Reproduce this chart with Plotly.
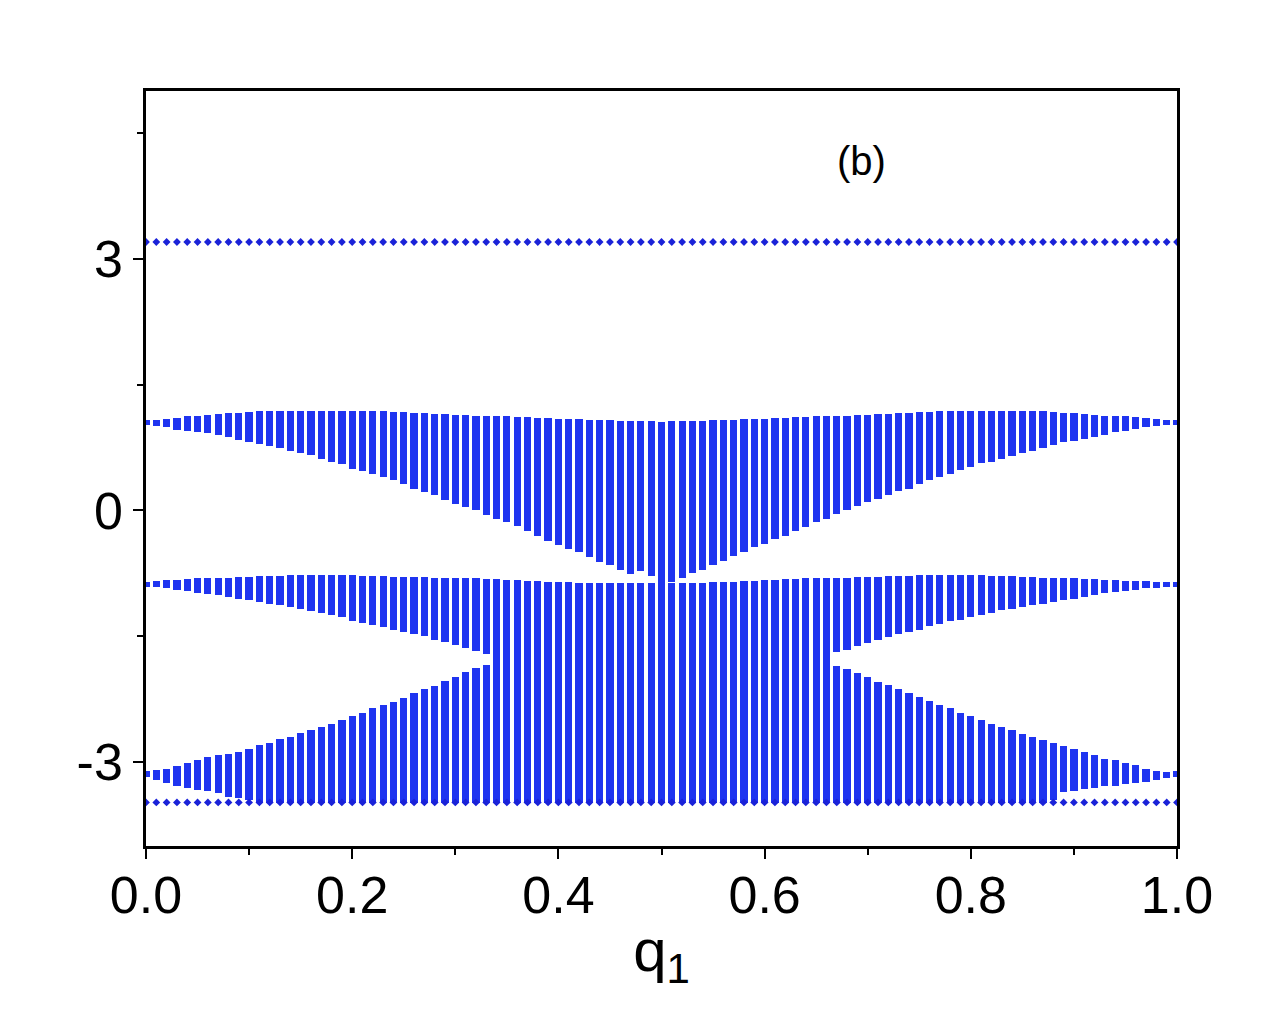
import numpy as np
import plotly.graph_objects as go

# ---------------- data ----------------
q1 = np.round(np.linspace(0.0, 1.0, 101), 2)

flat_top = [3.20] * 101
flat_bottom = [-3.48] * 101

band_a_hi = [
    1.08, 1.08, 1.09, 1.10, 1.12, 1.13, 1.14, 1.15, 1.16, 1.16,
    1.17, 1.18, 1.18, 1.19, 1.19, 1.19, 1.19, 1.19, 1.19, 1.19,
    1.19, 1.18, 1.18, 1.18, 1.17, 1.17, 1.16, 1.16, 1.15, 1.15,
    1.14, 1.14, 1.13, 1.13, 1.12, 1.12, 1.11, 1.11, 1.10, 1.10,
    1.09, 1.09, 1.09, 1.08, 1.08, 1.08, 1.07, 1.07, 1.07, 1.07,
    1.06,
    1.07, 1.07, 1.07, 1.07, 1.08, 1.08, 1.08, 1.09, 1.09, 1.09,
    1.10, 1.10, 1.11, 1.11, 1.12, 1.12, 1.13, 1.13, 1.14, 1.14,
    1.15, 1.15, 1.16, 1.16, 1.17, 1.17, 1.18, 1.18, 1.19, 1.19,
    1.19, 1.19, 1.19, 1.19, 1.19, 1.18, 1.18, 1.17, 1.16, 1.16,
    1.15, 1.14, 1.13, 1.12, 1.12, 1.11, 1.10, 1.09, 1.08, 1.08,
]
band_a_lo = [
    1.02, 1.01, 0.99, 0.96, 0.95, 0.93, 0.92, 0.90, 0.87, 0.84,
    0.81, 0.79, 0.77, 0.74, 0.71, 0.68, 0.66, 0.61, 0.58, 0.55,
    0.50, 0.47, 0.43, 0.40, 0.36, 0.32, 0.26, 0.22, 0.18, 0.13,
    0.08, 0.04, 0.00, -0.06, -0.10, -0.14, -0.19, -0.24, -0.30, -0.36,
    -0.41, -0.46, -0.50, -0.56, -0.62, -0.65, -0.71, -0.76, -0.72, -0.78,
    -0.86,
    -0.85, -0.80, -0.75, -0.71, -0.65, -0.60, -0.54, -0.49, -0.44, -0.40,
    -0.34, -0.30, -0.25, -0.20, -0.14, -0.10, -0.04, 0.00, 0.05, 0.10,
    0.14, 0.18, 0.23, 0.26, 0.32, 0.36, 0.40, 0.44, 0.48, 0.52,
    0.56, 0.58, 0.61, 0.65, 0.68, 0.71, 0.74, 0.78, 0.81, 0.83,
    0.85, 0.88, 0.90, 0.93, 0.95, 0.97, 0.99, 1.01, 1.02, 1.02,
]
band_b_hi = [
    -0.85, -0.84, -0.83, -0.83, -0.82, -0.81, -0.81, -0.80, -0.80, -0.79,
    -0.79, -0.78, -0.78, -0.78, -0.77, -0.77, -0.77, -0.77, -0.77, -0.77,
    -0.77, -0.78, -0.78, -0.78, -0.79, -0.79, -0.79, -0.79, -0.80, -0.80,
    -0.80, -0.81, -0.81, -0.82, -0.82, -0.83, -0.83, -0.84, -0.84, -0.85,
    -0.85, -0.85, -0.86, -0.86, -0.86, -0.87, -0.87, -0.87, -0.87, -0.87,
    -0.87,
    -0.87, -0.87, -0.86, -0.86, -0.85, -0.85, -0.85, -0.84, -0.84, -0.83,
    -0.83, -0.82, -0.82, -0.81, -0.81, -0.80, -0.80, -0.80, -0.79, -0.79,
    -0.79, -0.78, -0.78, -0.78, -0.77, -0.77, -0.77, -0.77, -0.77, -0.77,
    -0.77, -0.78, -0.78, -0.78, -0.79, -0.79, -0.80, -0.80, -0.81, -0.81,
    -0.82, -0.82, -0.83, -0.83, -0.84, -0.84, -0.84, -0.85, -0.85, -0.85,
]
# None = band B runs on into band C (no gap in that column)
band_b_lo = [
    -0.91, -0.91, -0.93, -0.95, -0.96, -0.98, -1.00, -1.01, -1.03, -1.05,
    -1.07, -1.09, -1.11, -1.13, -1.15, -1.17, -1.20, -1.22, -1.25, -1.27,
    -1.32, -1.34, -1.37, -1.39, -1.42, -1.45, -1.47, -1.50, -1.54, -1.57,
    -1.60, -1.64, -1.67, -1.71,
] + [None] * 33 + [
    -1.69, -1.66, -1.62, -1.58, -1.54, -1.51, -1.47, -1.45, -1.42, -1.38,
    -1.35, -1.32, -1.30, -1.27, -1.25, -1.22, -1.19, -1.17, -1.15, -1.13,
    -1.11, -1.09, -1.07, -1.05, -1.03, -1.01, -0.99, -0.97, -0.96, -0.95,
    -0.93, -0.92, -0.91, -0.91,
]
band_c_hi = [
    -3.11, -3.09, -3.08, -3.05, -3.01, -2.98, -2.94, -2.91, -2.90, -2.88,
    -2.84, -2.80, -2.77, -2.73, -2.70, -2.65, -2.62, -2.58, -2.54, -2.50,
    -2.45, -2.41, -2.36, -2.32, -2.28, -2.23, -2.18, -2.13, -2.09, -2.03,
    -1.98, -1.93, -1.88, -1.84,
] + [None] * 33 + [
    -1.85, -1.89, -1.94, -1.99, -2.04, -2.08, -2.13, -2.18, -2.22, -2.27,
    -2.32, -2.36, -2.41, -2.45, -2.50, -2.54, -2.58, -2.62, -2.66, -2.70,
    -2.74, -2.77, -2.81, -2.84, -2.88, -2.92, -2.96, -2.98, -3.01, -3.04,
    -3.08, -3.10, -3.12, -3.11,
]
band_c_lo = [
    -3.18, -3.21, -3.25, -3.29, -3.31, -3.33, -3.35, -3.37, -3.42, -3.43,
    -3.45,
] + [-3.49] * 77 + [
    -3.45, -3.36, -3.34, -3.32, -3.31, -3.29, -3.28, -3.26, -3.25, -3.24,
    -3.21, -3.19, -3.18,
]

x_ticks = [0.0, 0.2, 0.4, 0.6, 0.8, 1.0]
x_ticktext = ["0.0", "0.2", "0.4", "0.6", "0.8", "1.0"]
x_minor = [0.1, 0.3, 0.5, 0.7, 0.9]
y_ticks = [-3, 0, 3]
y_ticktext = ["-3", "0", "3"]
y_minor = [4.5, 1.5, -1.5]

# ---------------- figure ----------------
BAR_COLOR = "#1f34f0"
DOT_COLOR = "#1a22d8"
COL_W = 0.0070

fig = go.Figure()


def add_band(xs, hi, lo):
    fig.add_trace(go.Bar(x=xs, y=[h - l for h, l in zip(hi, lo)], base=lo,
                         width=COL_W,
                         marker=dict(color=BAR_COLOR, line=dict(width=0)),
                         showlegend=False, hoverinfo="skip"))


# band A
add_band(q1, band_a_hi, band_a_lo)
# band B (continuing into C where the gap is closed)
b_lo_eff = [bl if bl is not None else cl for bl, cl in zip(band_b_lo, band_c_lo)]
add_band(q1, band_b_hi, b_lo_eff)
# band C where it is a separate column
c_sel = [(x, ch, cl) for x, ch, cl in zip(q1, band_c_hi, band_c_lo) if ch is not None]
add_band([s[0] for s in c_sel], [s[1] for s in c_sel], [s[2] for s in c_sel])

# flat levels
for lvl in (flat_top, flat_bottom):
    fig.add_trace(go.Scatter(x=q1, y=lvl, mode="markers",
                             marker=dict(symbol="diamond", size=6, color=DOT_COLOR),
                             showlegend=False, hoverinfo="skip"))

FONT = "Liberation Sans, Arial, sans-serif"

fig.add_annotation(x=0.694, y=4.17, text="(b)", showarrow=False,
                   font=dict(family=FONT, size=40, color="black"))

fig.update_layout(
    width=1270, height=1024,
    margin=dict(l=138, r=101, t=83, b=186),
    paper_bgcolor="white", plot_bgcolor="white",
    barmode="overlay", bargap=0,
    font=dict(family=FONT, color="black"),
    xaxis=dict(range=[0, 1], showgrid=False, zeroline=False,
               showline=True, linecolor="black", linewidth=2.5, mirror=True,
               ticks="outside", ticklen=10, tickwidth=2, tickcolor="black",
               tickmode="array", tickvals=x_ticks, ticktext=x_ticktext,
               tickfont=dict(family=FONT, size=52, color="black"),
               minor=dict(tickmode="array", tickvals=x_minor,
                          ticks="outside", ticklen=6, tickwidth=2, tickcolor="black",
                          showgrid=False),
               title=dict(text="q<sub>1</sub>", standoff=6,
                          font=dict(family=FONT, size=60, color="black"))),
    yaxis=dict(range=[-4, 5], showgrid=False, zeroline=False,
               showline=True, linecolor="black", linewidth=2.5, mirror=True,
               ticks="outside", ticklen=10, tickwidth=2, tickcolor="black",
               tickmode="array", tickvals=y_ticks, ticktext=y_ticktext,
               tickfont=dict(family=FONT, size=52, color="black"),
               minor=dict(tickmode="array", tickvals=y_minor,
                          ticks="outside", ticklen=6, tickwidth=2, tickcolor="black",
                          showgrid=False)),
)

try:
    fig.update_xaxes(ticklabelstandoff=-8)
except Exception:
    pass

fig.write_html("out.html")
